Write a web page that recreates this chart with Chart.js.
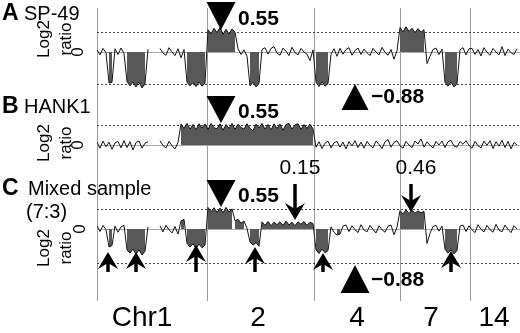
<!DOCTYPE html>
<html>
<head>
<meta charset="utf-8">
<script src="https://cdn.jsdelivr.net/npm/chart.js@4.4.1/dist/chart.umd.min.js"></script>
<style>
html, body { margin: 0; padding: 0; background: #fff; }
#wrap { position: relative; width: 520px; height: 333px; }
</style>
</head>
<body>
<div id="wrap"><canvas id="cgh"></canvas></div>
<script>
// probe spacing along the genome (position units)
const STEP = 3;

const chrStarts = [0, 110, 217, 303, 373];
const chrLabels = ['Chr1', '2', '4', '7', '14'];
const chrLabelPos = [45, 161, 260, 334, 397];

// log2 ratios, one value per probe, null = no probes
const traceA = [
  0.06, -0.08, 0.1, -0.02, -0.86, -0.84, 0.09, -0.07, 0.11, -0.04,
  -0.82, -0.94, -0.84, -0.97, -0.83, -1.0, -0.88, 0.08, null, null,
  null, 0.1, -0.03, -0.09, 0.12, 0.0, -0.1, 0.09, -0.16, 0.07,
  -0.84, -0.94, -0.85, -0.96, -0.83, -0.95, -0.87, 0.62, 0.5, 0.66,
  0.54, 0.68, 0.49, 0.63, 0.5, 0.64, 0.55, 0.09, -0.07, 0.06,
  -0.12, -0.94, -0.84, -0.97, -0.87, 0.07, 0.12, -0.06, 0.1, 0.15,
  -0.03, -0.09, 0.11, 0.02, -0.1, 0.13, -0.02, -0.08, 0.1, 0.0,
  -0.06, -0.24, 0.06, -0.84, -0.96, -0.83, -0.95, -0.88, -0.06, 0.09,
  -0.12, 0.1, -0.06, 0.07, 0.12, -0.09, 0.04, 0.11, -0.07, 0.08,
  -0.02, -0.1, 0.1, 0.0, -0.08, 0.13, -0.01, -0.09, 0.07, -0.2,
  0.04, 0.68, 0.56, 0.7, 0.57, 0.66, 0.54, 0.65, 0.55, 0.62,
  -0.32, -0.12, 0.07, 0.11, -0.07, 0.08, -0.84, -0.95, -0.83, -0.97,
  -0.88, 0.06, 0.12, -0.08, 0.09, 0.1, -0.07, 0.07, -0.11, 0.12,
  -0.01, -0.09, 0.1, 0.0, -0.08, 0.15, -0.1, 0.08, -0.02, -0.07, 0.09
];
const traceB = [
  0.08, -0.09, 0.11, -0.05, 0.08, -0.12, 0.06, 0.1, -0.08, 0.12,
  -0.07, 0.09, -0.14, 0.07, 0.11, -0.09, 0.05, 0.09, null, null,
  null, 0.12, -0.01, -0.08, 0.1, -0.02, -0.11, 0.07, 0.58, 0.46,
  0.6, 0.44, 0.57, 0.42, 0.59, 0.47, 0.58, 0.43, 0.6, 0.48,
  0.45, 0.59, 0.41, 0.57, 0.46, 0.6, 0.43, 0.58, 0.49, 0.44,
  0.59, 0.46, 0.4, 0.58, 0.47, 0.6, 0.44, 0.57, 0.42, 0.59,
  0.46, 0.58, 0.41, 0.57, 0.6, 0.44, 0.56, 0.59, 0.43, 0.57,
  0.46, 0.58, 0.45, -0.06, 0.09, -0.1, 0.05, 0.11, -0.08, 0.06,
  0.1, -0.06, 0.08, -0.11, 0.09, -0.02, 0.12, -0.07, 0.08, -0.09,
  0.1, -0.01, -0.08, 0.11, 0.02, -0.1, 0.09, 0.15, -0.06, 0.07,
  0.12, -0.02, -0.09, 0.1, 0.0, -0.07, 0.11, 0.03, 0.17, -0.06,
  0.09, -0.01, -0.08, 0.1, 0.0, 0.11, -0.07, 0.09, 0.13, -0.03,
  -0.06, 0.1, 0.02, 0.12, -0.01, -0.09, 0.1, -0.02, -0.08, 0.11,
  -0.01, 0.12, -0.1, 0.09, -0.03, 0.13, -0.07, 0.1, -0.11, 0.07, 0.0
];
const traceC = [
  0.09, -0.07, 0.1, -0.02, -0.5, -0.46, 0.08, -0.09, 0.06, 0.1,
  -0.58, -0.67, -0.56, -0.7, -0.58, -0.72, -0.62, 0.06, null, null,
  null, 0.09, -0.08, 0.1, -0.02, -0.11, 0.07, -0.14, 0.22, 0.27,
  -0.4, -0.5, -0.41, -0.54, -0.42, -0.52, -0.45, 0.6, 0.48, 0.59,
  0.46, 0.58, 0.45, 0.6, 0.47, 0.56, 0.23, 0.27, 0.16, 0.22,
  0.02, -0.36, -0.45, -0.38, -0.48, 0.2, 0.1, 0.21, 0.09, 0.19,
  0.12, 0.2, 0.1, 0.22, 0.11, 0.19, 0.09, 0.2, 0.13, 0.21,
  0.1, 0.19, 0.15, -0.58, -0.68, -0.56, -0.66, -0.6, 0.06, -0.09,
  -0.17, -0.14, 0.08, 0.11, -0.07, 0.09, -0.02, -0.1, 0.12, -0.03,
  -0.08, 0.1, -0.01, -0.11, 0.09, -0.02, -0.09, 0.08, 0.11, -0.16,
  0.05, 0.51, 0.42, 0.53, 0.43, 0.52, 0.44, 0.5, 0.45, 0.49,
  -0.4, -0.12, 0.07, 0.1, -0.06, 0.08, -0.56, -0.67, -0.58, -0.69,
  -0.6, 0.08, 0.11, -0.07, 0.09, -0.02, -0.1, 0.12, -0.01, -0.08,
  0.1, -0.02, -0.09, 0.13, -0.03, -0.08, 0.11, -0.01, -0.1, 0.09, 0.0
];

// called gain/loss segments, probe index ranges
const blocksA = [[4,5],[10,16],[30,36],[37,46],[51,54],[73,77],[101,109],[116,120]];
const blocksB = [[28,72]];
const blocksC = [[4,5],[10,16],[28,29],[30,36],[37,45],[46,49],[51,54],[55,72],[73,77],[80,81],[101,109],[116,120]];

// reference levels (dashed)
const refsA = [0.55, -0.88];
const refsB = [0.55];
const refsC = [0.55, -0.95];

const H = 333, PXU = 36;
const panels = [
  {id: 'yA', trace: traceA, blocks: blocksA, refs: refsA, zero: 52},
  {id: 'yB', trace: traceB, blocks: blocksB, refs: refsB, zero: 145},
  {id: 'yC', trace: traceC, blocks: blocksC, refs: refsC, zero: 229}
];

const pts = (arr, a, b) => arr.slice(a, b + 1).map((v, k) => ({x: (a + k) * STEP, y: v}));

const datasets = [];
panels.forEach(p => {
  datasets.push({
    data: pts(p.trace, 0, p.trace.length - 1),
    yAxisID: p.id, borderColor: '#111', borderWidth: 1,
    pointRadius: 0, tension: 0, spanGaps: false, fill: false, order: 0
  });
  p.blocks.forEach(b => {
    datasets.push({
      data: pts(p.trace, b[0], b[1]),
      yAxisID: p.id, borderWidth: 0, borderColor: 'rgba(0,0,0,0)',
      backgroundColor: '#585858', pointRadius: 0, tension: 0,
      fill: {value: 0}, order: 1
    });
  });
});

const scales = {
  x: {type: 'linear', min: 0, max: 421, display: false}
};
panels.forEach(p => {
  const max = p.zero / PXU;
  scales[p.id] = {type: 'linear', display: false, max: max, min: max - H / PXU};
});

const FONT = '"Liberation Sans", Arial, Helvetica, sans-serif';

function downTri(ctx, x, top, bot, w) {
  ctx.beginPath();
  ctx.moveTo(x - w / 2, top); ctx.lineTo(x + w / 2, top); ctx.lineTo(x, bot);
  ctx.closePath(); ctx.fill();
}
function upTri(ctx, x, top, bot, w) {
  ctx.beginPath();
  ctx.moveTo(x, top); ctx.lineTo(x + w / 2, bot); ctx.lineTo(x - w / 2, bot);
  ctx.closePath(); ctx.fill();
}
function arrow(ctx, x, tip, tail, dir) {
  // dir = -1 points up, 1 points down
  const hw = 10, hh = 17, notch = 6;
  const back = tip - dir * hh;
  ctx.lineWidth = 3.5;
  ctx.beginPath(); ctx.moveTo(x, tail); ctx.lineTo(x, back + dir * notch); ctx.stroke();
  ctx.beginPath();
  ctx.moveTo(x, tip);
  ctx.lineTo(x + hw, back);
  ctx.lineTo(x, back + dir * notch);
  ctx.lineTo(x - hw, back);
  ctx.closePath(); ctx.fill();
}
function text(ctx, s, x, y, size, bold, align) {
  ctx.font = (bold ? 'bold ' : '') + size + 'px ' + FONT;
  ctx.textAlign = align || 'left';
  ctx.textBaseline = 'middle';
  ctx.fillText(s, x, y);
}
function vtext(ctx, s, x, y, size) {
  ctx.save();
  ctx.translate(x, y); ctx.rotate(-Math.PI / 2);
  text(ctx, s, 0, 0, size, false, 'center');
  ctx.restore();
}

const decor = {
  id: 'decor',
  beforeDatasetsDraw(chart) {
    const ctx = chart.ctx, xs = chart.scales.x;
    ctx.save();
    // chromosome borders
    ctx.strokeStyle = '#9c9c9c'; ctx.lineWidth = 1;
    chrStarts.forEach(c => {
      const x = Math.round(xs.getPixelForValue(c)) + 0.5;
      ctx.beginPath(); ctx.moveTo(x, 8); ctx.lineTo(x, 301); ctx.stroke();
    });
    panels.forEach(p => {
      const ys = chart.scales[p.id];
      const z = Math.round(ys.getPixelForValue(0)) + 0.5;
      ctx.strokeStyle = '#a8a8a8'; ctx.setLineDash([]);
      ctx.beginPath(); ctx.moveTo(97, z); ctx.lineTo(520, z); ctx.stroke();
      ctx.strokeStyle = '#444'; ctx.setLineDash([2, 2]);
      p.refs.forEach(r => {
        const y = Math.round(ys.getPixelForValue(r)) + 0.5;
        ctx.beginPath(); ctx.moveTo(97, y); ctx.lineTo(520, y); ctx.stroke();
      });
    });
    ctx.restore();
  },
  afterDatasetsDraw(chart) {
    const ctx = chart.ctx, xs = chart.scales.x;
    const X = v => xs.getPixelForValue(v);
    ctx.save();
    ctx.fillStyle = '#000'; ctx.strokeStyle = '#000';

    // panel titles
    text(ctx, 'A', 2, 14, 23, true); text(ctx, 'SP-49', 24, 14, 20, false);
    text(ctx, 'B', 2, 107, 23, true); text(ctx, 'HANK1', 24, 107, 20, false);
    text(ctx, 'C', 2, 189, 23, true); text(ctx, 'Mixed sample', 28, 189, 20, false);
    text(ctx, '(7:3)', 26, 212, 20, false);

    // y labels
    vtext(ctx, 'Log2', 44, 39, 17); vtext(ctx, 'ratio', 66, 39, 17); vtext(ctx, '0', 78, 52, 17);
    vtext(ctx, 'Log2', 44, 143, 17); vtext(ctx, 'ratio', 66, 143, 17); vtext(ctx, '0', 78, 145, 17);
    vtext(ctx, 'Log2', 44, 248, 17); vtext(ctx, 'ratio', 66, 248, 17); vtext(ctx, '0', 80, 229, 17);

    // gain / loss markers
    downTri(ctx, X(124), 2, 30, 29); text(ctx, '0.55', 238, 19, 21, true);
    downTri(ctx, X(124), 96, 123, 29); text(ctx, '0.55', 238, 112, 21, true);
    upTri(ctx, X(258), 84, 110, 27); text(ctx, '\u22120.88', 371, 97, 21, true);
    downTri(ctx, X(124), 180, 207, 29); text(ctx, '0.55', 238, 196, 21, true);
    upTri(ctx, X(258), 265, 293, 29); text(ctx, '\u22120.88', 371, 280, 21, true);

    // mixed sample arrows
    text(ctx, '0.15', 300, 168, 21, false, 'center');
    text(ctx, '0.46', 416, 168, 21, false, 'center');
    arrow(ctx, X(198), 220, 184, 1);
    arrow(ctx, X(314), 212, 184, 1);
    [[11, 252], [39, 252], [99, 245], [158, 247], [226, 253], [354, 251]].forEach(a => {
      arrow(ctx, X(a[0]), a[1], 272, -1);
    });

    // chromosome labels
    chrLabels.forEach((s, i) => text(ctx, s, X(chrLabelPos[i]), 318, 28, false, 'center'));
    ctx.restore();
  }
};

new Chart(document.getElementById('cgh'), {
  type: 'line',
  data: {datasets: datasets},
  options: {
    responsive: true,
    maintainAspectRatio: false,
    animation: false,
    layout: {padding: {left: 97, right: 2, top: 0, bottom: 0}},
    scales: scales,
    plugins: {legend: {display: false}, tooltip: {enabled: false}}
  },
  plugins: [decor]
});
</script>
</body>
</html>
